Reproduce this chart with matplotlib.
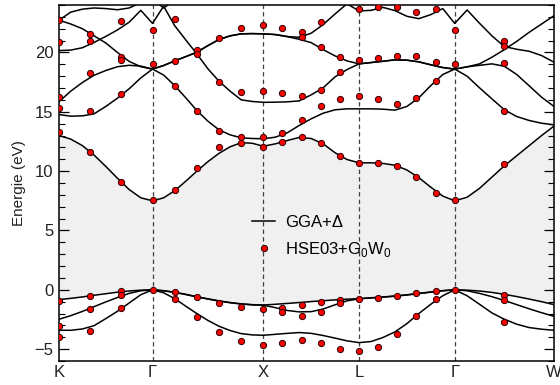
import numpy as np
import matplotlib
matplotlib.use("Agg")
import matplotlib.pyplot as plt
from matplotlib.ticker import MultipleLocator

plt.rcParams["font.family"] = ["Liberation Sans", "DejaVu Sans"]
plt.rcParams["mathtext.fontset"] = "custom"
plt.rcParams["mathtext.rm"] = "Liberation Sans"

# high-symmetry points (path units) and sampling of the lines
kpts = [0.0, 93.5, 204.3, 300.0, 395.7, 495.0]
klabels = ["K", "Γ", "X", "L", "Γ", "W"]
nseg = [8, 10, 8, 8, 8]

# GGA+Delta bands (eV), read along the path K-G-X-L-G-W
vb1 = [-0.83, -0.72, -0.6, -0.46, -0.33, -0.2, -0.1, -0.03, 0.0,
       -0.07, -0.2, -0.38, -0.58, -0.76, -0.93, -1.07, -1.18, -1.25, -1.28,
       -1.22, -1.15, -1.07, -0.99, -0.92, -0.85, -0.79, -0.74,
       -0.67, -0.6, -0.52, -0.42, -0.3, -0.18, -0.07, 0.0,
       -0.03, -0.1, -0.22, -0.38, -0.57, -0.78, -1.0, -1.25]
vb2 = [-2.48, -2.18, -1.82, -1.42, -1.02, -0.65, -0.3, -0.08, 0.0,
       -0.09, -0.22, -0.4, -0.6, -0.78, -0.95, -1.09, -1.2, -1.27, -1.3,
       -1.5, -1.74, -1.86, -1.84, -1.62, -1.26, -0.93, -0.76,
       -0.69, -0.62, -0.54, -0.44, -0.32, -0.2, -0.08, 0.0,
       -0.08, -0.3, -0.58, -0.9, -1.25, -1.6, -1.93, -2.23]
vb3 = [-3.41, -3.41, -3.3, -3.02, -2.43, -1.81, -1.11, -0.41, 0.0,
       -0.25, -0.74, -1.38, -2.0, -2.58, -3.07, -3.43, -3.69, -3.8, -3.83,
       -3.75, -3.67, -3.6, -3.67, -3.85, -4.07, -4.3, -4.45,
       -4.36, -4.02, -3.55, -2.85, -2.0, -1.22, -0.5, 0.0,
       -0.5, -1.22, -1.95, -2.48, -2.9, -3.18, -3.32, -3.41]
cb1 = [13.0, 12.7, 12.15, 11.35, 10.4, 9.4, 8.45, 7.75, 7.5,
       7.75, 8.35, 9.15, 10.0, 10.8, 11.5, 12.05, 12.4, 12.35, 12.1,
       12.3, 12.58, 12.84, 12.75, 12.3, 11.55, 10.98, 10.7,
       10.7, 10.65, 10.5, 10.1, 9.45, 8.65, 7.9, 7.5,
       7.8, 8.55, 9.5, 10.45, 11.3, 12.15, 13.0, 13.8]
cb2 = [14.77, 14.63, 14.66, 14.83, 15.45, 16.15, 16.94, 17.86, 18.6,
       18.1, 17.21, 16.18, 15.11, 14.21, 13.48, 13.06, 12.81, 12.75, 12.73,
       12.86, 13.23, 13.85, 14.41, 14.88, 15.17, 15.25, 15.25,
       15.25, 15.22, 15.14, 15.45, 16.18, 17.21, 18.14, 18.6,
       18.0, 17.02, 16.09, 15.17, 14.6, 14.27, 14.04, 13.9]
cb3 = [15.85, 16.74, 17.47, 18.08, 18.48, 18.8, 18.92, 18.85, 18.6,
       18.9, 19.29, 19.65, 20.02, 20.58, 21.09, 21.4, 21.57, 21.59, 21.57,
       21.51, 21.34, 21.11, 20.83, 20.24, 19.71, 19.29, 19.04,
       19.15, 19.26, 19.38, 19.35, 19.21, 18.96, 18.73, 18.6,
       18.79, 18.92, 19.04, 18.84, 18.14, 17.19, 16.23, 15.45]
cb4 = [22.72, 22.4, 22.0, 21.4, 20.8, 20.0, 19.25, 18.8, 18.6,
       18.9, 19.29, 19.65, 20.02, 20.58, 21.09, 21.4, 21.57, 21.59, 21.57,
       21.51, 21.34, 21.28, 21.62, 22.35, 23.25, 24.1, 23.5,
       23.55, 23.8, 23.53, 23.05, 22.85, 23.19, 23.7, 22.45,
       23.58, 22.46, 21.4, 20.5, 20.27, 20.1, 19.74, 19.18]
cb5 = [20.16, 20.2, 20.4, 20.85, 21.35, 21.9, 22.55, 23.55, 22.45,
       23.9, 22.26, 21.06, 19.88, 18.62, 17.58, 16.74, 16.01, 15.87, 15.8,
       15.81, 15.84, 15.92, 16.43, 17.02, 17.95, 18.56, 19.04,
       19.15, 19.26, 19.38, 19.35, 19.21, 18.96, 18.73, 18.6,
       18.79, 19.04, 19.6, 20.24, 20.94, 21.7, 22.4, 23.1]
cb6 = [22.72, 23.4, 23.65, 23.75, 23.7, 23.6, 23.75, 24.2, 24.5,
       23.75, 24.4, 24.6]

# HSE03+G0W0 points
hse_k = [0.0, 31.2, 62.3, 93.5, 115.7, 137.8, 160.0, 182.1, 204.3,
         223.4, 242.6, 261.7, 280.9, 300.0, 319.1, 338.3, 357.4, 376.6,
         395.7, 445.3]
hse_e = [
    [22.74, 20.86, 16.23, 15.34, 13.34, -0.97, -3.05, -3.97],
    [21.57, 21.0, 18.28, 15.11, 11.6, -0.52, -1.58, -3.49],
    [22.68, 19.65, 19.38, 16.51, 9.07, -0.13, -0.4, -1.53],
    [21.9, 19.0, 7.53, 0.0],
    [22.83, 19.3, 17.21, 8.38, -0.18, -0.8],
    [20.22, 19.88, 15.03, 10.25, -0.6, -2.29],
    [21.23, 17.55, 13.4, 12.02, -1.08, -3.55],
    [22.07, 16.68, 12.86, 12.36, -1.47, -4.34],
    [22.35, 16.73, 12.86, 12.02, -1.58, -4.61],
    [22.07, 16.57, 13.23, 12.44, -1.53, -1.89, -4.45],
    [21.7, 21.34, 16.29, 14.35, 12.86, -1.3, -2.23, -4.22],
    [22.54, 20.44, 16.85, 15.45, 12.36, -1.05, -1.89, -4.5],
    [19.65, 18.33, 16.09, 11.26, -0.83, -1.11, -5.01],
    [23.67, 19.38, 16.29, 10.71, -0.74, -5.18],
    [23.86, 19.51, 16.05, 10.71, -0.66, -4.78],
    [23.8, 19.74, 15.64, 10.42, -0.52, -3.72],
    [23.38, 19.68, 16.15, 9.5, -0.29, -2.23],
    [23.67, 19.23, 17.61, 8.15, -0.1, -0.74],
    [21.9, 19.0, 7.53, 0.0],
    [21.0, 20.58, 19.12, 15.11, 10.62, -0.46, -0.88, -2.71],
]

k = np.concatenate([np.linspace(kpts[i], kpts[i + 1], nseg[i] + 1)[(i > 0):]
                    for i in range(len(nseg))])

fig = plt.figure(figsize=(5.6, 3.85), dpi=100)
ax = fig.add_axes([0.1054, 0.0623, 0.8839, 0.9247])

ax.fill_between(k, vb1, cb1, color="#f0f0f0", lw=0, zorder=0)

bands = [vb1, vb2, vb3, cb1, cb2, cb3, cb4, cb5]
for i, b in enumerate(bands):
    ax.plot(k, b, color="black", lw=1.1, zorder=2,
            label="GGA+Δ" if i == 0 else None)
ax.plot(k[:len(cb6)], cb6, color="black", lw=1.1, zorder=2)

for x in kpts[1:-1]:
    ax.axvline(x, color="0.25", lw=0.9, ls=(0, (3.5, 2.5)), zorder=1)

xs = [kk for kk, es in zip(hse_k, hse_e) for _ in es]
ys = [e for es in hse_e for e in es]
ax.plot(xs, ys, "o", ls="none", ms=4.5, mfc="#ff0000", mec="#2a0000",
        mew=0.7, zorder=3, label=r"HSE03+G$_\mathregular{0}$W$_\mathregular{0}$")

ax.set_xlim(kpts[0], kpts[-1])
ax.set_ylim(-6, 24)
ax.set_xticks(kpts)
ax.set_xticklabels(klabels)
ax.yaxis.set_major_locator(MultipleLocator(5))
ax.yaxis.set_minor_locator(MultipleLocator(1))
ax.tick_params(axis="y", which="both", direction="in", left=True, right=True,
               labelsize=12, labelcolor="#222222", pad=4)
ax.tick_params(axis="y", which="major", length=7, width=0.9)
ax.tick_params(axis="y", which="minor", length=4, width=0.8)
ax.tick_params(axis="x", length=0, labelsize=12, labelcolor="#222222", pad=3)
for s in ax.spines.values():
    s.set_linewidth(1.1)

ax.set_ylabel("Energie (eV)", fontsize=11, color="#222222", labelpad=6)

ax.legend(loc="center left", bbox_to_anchor=(0.39, 0.348), frameon=False,
          fontsize=12, handlelength=1.4, handletextpad=0.6, numpoints=1,
          labelspacing=0.6, borderpad=0, borderaxespad=0)

fig.savefig("out.png", dpi=100)
